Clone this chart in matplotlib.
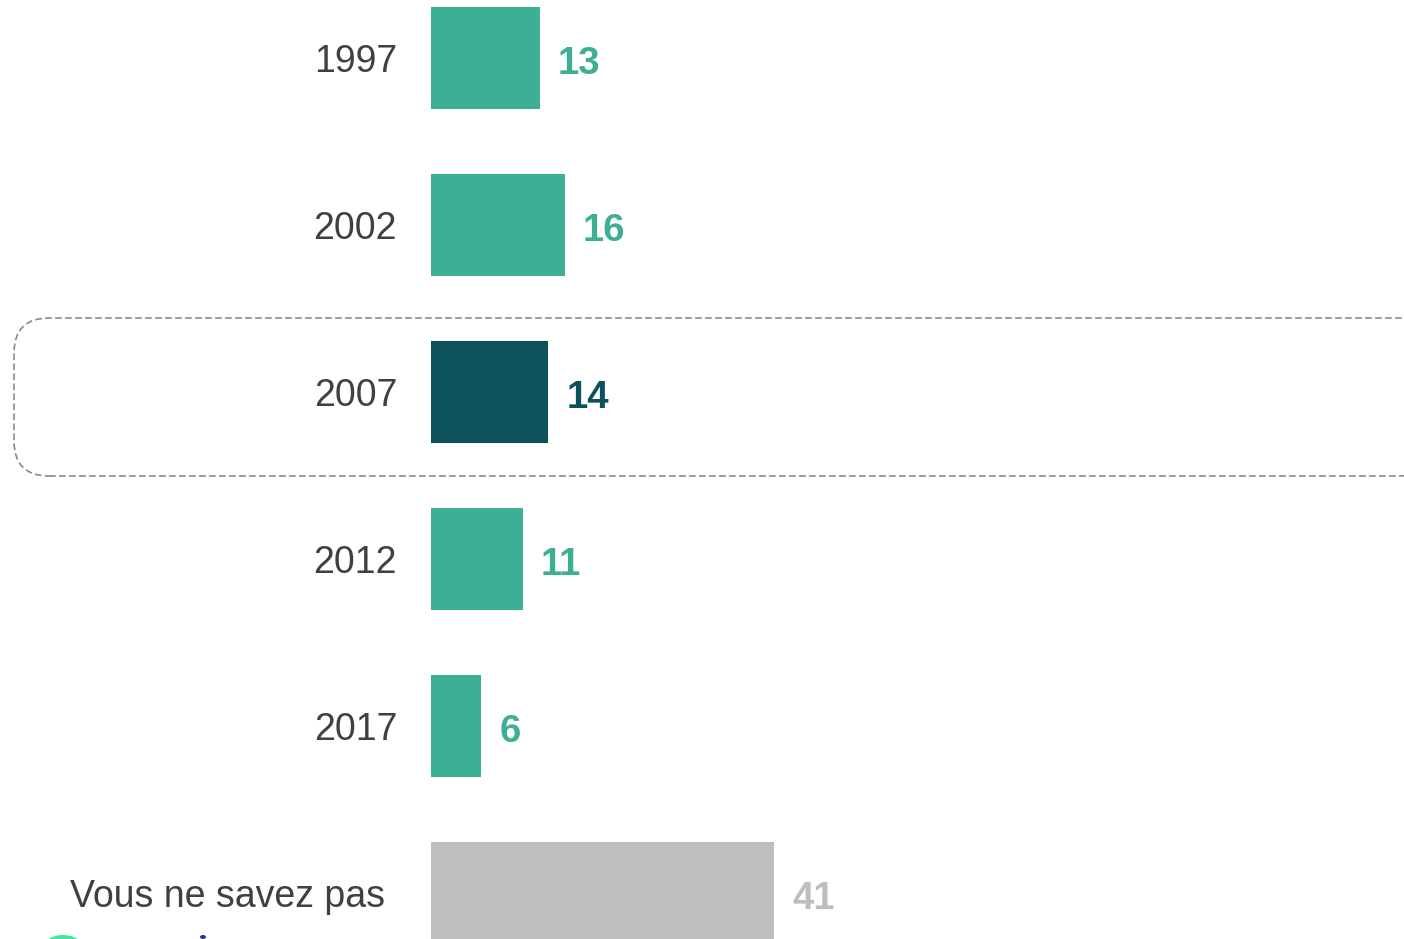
import matplotlib
matplotlib.use('Agg')
import matplotlib.pyplot as plt
import matplotlib.patches as mpatches

plt.rcParams['font.family'] = ['Liberation Sans', 'DejaVu Sans']

# data
categories = ['1997', '2002', '2007', '2012', '2017', 'Vous ne savez pas']
values = [13, 16, 14, 11, 6, 41]

TEAL = '#3daf94'
DARK = '#0b525b'
GREY = '#bebebe'
bar_colors = [TEAL, TEAL, DARK, TEAL, TEAL, GREY]
TXT = '#404040'

W, H = 1404, 939
fig = plt.figure(figsize=(W / 100, H / 100), dpi=100)
fig.patch.set_facecolor('white')

# axes starts at bar origin (x=431 px)
ax = fig.add_axes([431 / W, 0, 1 - 431 / W, 1])
ax.axis('off')
px_per_unit = 8.37
ax.set_xlim(0, (W - 431) / px_per_unit)
row = 167
ax.set_ylim((H - 58) / row, -58 / row)

ypos = list(range(len(categories)))
ax.barh(ypos, values, height=102 / row, color=bar_colors, left=0)

for i, (cat, v, c) in enumerate(zip(categories, values, bar_colors)):
    ax.text(v + 18 / px_per_unit, i + 0.012, str(v), ha='left', va='center_baseline',
            fontsize=27.5, fontweight='bold', color=c)

# category labels (figure coords)
for i, cat in enumerate(categories):
    y = 1 - (58 + row * i) / H
    xr = 397 if i < 5 else 385
    fig.text(xr / W, y, cat, ha='right', va='center_baseline', fontsize=27, color=TXT)

# dashed highlight box around 2007
box = mpatches.FancyBboxPatch((14 / W, 1 - 476 / H), 1420 / W, 158 / H,
                              boxstyle='round,pad=0,rounding_size=0.025',
                              transform=fig.transFigure, fill=False,
                              ec='#8a8a8a', lw=1.2, ls=(0, (4, 2)),
                              mutation_aspect=W / H)
fig.patches.append(box)

# remnants of logo at bottom edge
fig.patches.append(mpatches.Ellipse((63 / W, 1 - 948 / H), 40 / W, 26 / H,
                                    transform=fig.transFigure, fc='#3ee89c', ec='none'))
fig.patches.append(mpatches.Circle((203 / W, 1 - 937 / H), 3 / W,
                                   transform=fig.transFigure, fc='#1a3a9c', ec='none'))

fig.savefig('out.png', dpi=100, facecolor='white')
plt.close(fig)
